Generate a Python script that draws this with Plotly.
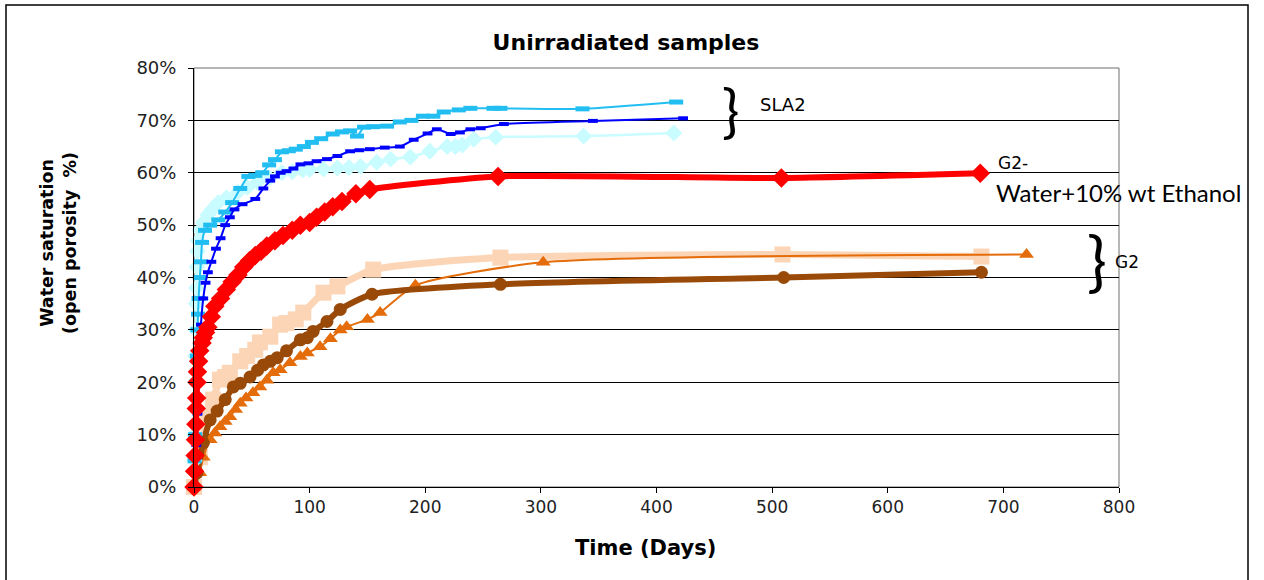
import plotly.graph_objects as go

# ---- Data (days, % water saturation) ----
cyan_x = [0, 0.5, 1, 1.5, 2, 2.5, 3, 3.5, 4, 5, 6, 7, 9.5, 14, 21, 27, 33, 40, 47, 53, 59, 65, 70, 76, 82, 88, 95, 102, 110, 120, 128, 135, 141, 147, 155, 167, 178, 188, 198, 207, 216, 229, 239, 259, 265, 336, 417]
cyan_y = [0, 5, 10, 15, 20, 25, 30, 33, 36, 40, 43, 46.7, 49, 50, 51, 52.5, 54.3, 57, 59.3, 59.5, 60, 61.5, 62.5, 64, 64.2, 64.5, 65, 65.8, 66.5, 67.4, 67.8, 68, 67, 68.7, 68.8, 68.9, 69.7, 70, 70.8, 70.8, 71.6, 72, 72.3, 72.3, 72.3, 72.2, 73.5]

blue_x = [0, 1, 2, 3, 4, 5, 6, 8, 10, 12, 15, 19, 23, 27, 31, 35, 42, 53, 60, 66, 70, 75, 80, 86, 92, 99, 106, 115, 124, 135, 143, 152, 165, 178, 190, 202, 210, 222, 230, 239, 248, 268, 345, 423]
blue_y = [0, 3, 8, 14, 20, 26, 31, 36, 39, 41, 43, 45.5, 47.5, 50, 51.5, 53, 54, 55, 57, 58.5, 59.3, 60, 60.3, 60.8, 61.6, 61.8, 62.2, 62.6, 63.2, 64.1, 64.3, 64.5, 64.8, 65, 66.3, 67.5, 68.3, 67.4, 67.7, 68.3, 68.5, 69.3, 69.9, 70.4]

pale_x = [0, 0.3, 0.5, 0.8, 1, 1.2, 1.5, 1.8, 2, 2.5, 3, 3.5, 5, 8, 12, 15.6, 21, 28, 38, 46, 55, 65, 76, 85, 94, 100, 112, 124, 134, 144, 158, 170, 187, 204, 219, 226, 232, 242, 261, 337, 415]
pale_y = [0, 5, 10, 15, 20, 25, 30, 35, 38, 42, 45, 47, 49, 50.5, 52, 53, 54.3, 55.2, 56.3, 57.2, 58.2, 59, 60, 60.2, 60.5, 60.6, 60.7, 60.9, 61, 61.2, 62, 62.6, 63, 64.1, 65, 65, 65.3, 66.4, 66.8, 67, 67.6]

red_x = [0, 0.5, 1, 1.3, 1.6, 2, 2.3, 2.6, 3, 4, 5, 7, 8, 10, 12, 15, 18, 23, 28, 33, 38, 43, 48, 53, 58, 63, 70, 77, 85, 92, 100, 106, 113, 120, 128, 140, 152, 263, 508, 680]
red_y = [0, 3, 6, 9, 12, 15, 17, 20, 22, 24, 26, 27.5, 28.5, 29.5, 30.5, 32.5, 34.5, 36, 37.7, 39.2, 40.5, 42, 43.2, 44.2, 45, 46, 47, 48, 49, 50, 50.5, 51.5, 52.5, 53.5, 54.5, 56, 56.8, 59.3, 59, 59.9]

peach_x = [0, 5, 11, 16.5, 22.5, 27, 31, 40, 46, 53, 57, 66, 74.5, 80, 88, 94.5, 112, 124, 155, 265, 509, 681]
peach_y = [0, 5.7, 13.4, 16.7, 20.5, 21, 21.8, 24, 25, 26.2, 27.6, 28.7, 31, 31.3, 32, 33.3, 37.1, 38.3, 41.5, 43.8, 44.4, 44]

brown_x = [0, 2.6, 8, 14, 20, 27, 34, 40, 48.5, 55, 60, 66, 72, 80, 92, 98, 103, 115, 126.5, 154, 265, 510, 681]
brown_y = [0, 2.7, 8.4, 12.8, 14.5, 16.7, 19.1, 19.8, 21, 22.3, 23.3, 24, 24.7, 26, 28.1, 28.5, 29.7, 31.6, 33.9, 36.8, 38.7, 40, 41]

orange_x = [0, 5, 8, 14, 18, 22.5, 27, 31, 36, 40, 45, 51, 57, 63, 68.5, 74.5, 83, 92, 98, 109, 118, 126.5, 132, 150, 161, 191.5, 302, 720]
orange_y = [0, 2.7, 5.7, 9, 10.3, 11.5, 12.5, 13.4, 14.8, 16, 17, 18, 19.1, 20.4, 21.8, 22.4, 23.7, 24.9, 25.6, 26.8, 28.3, 30, 30.6, 32, 33.3, 38.5, 42.9, 44.4]

x_ticks = [0, 100, 200, 300, 400, 500, 600, 700, 800]
y_ticks = [0, 10, 20, 30, 40, 50, 60, 70, 80]
y_tick_labels = [f"{v}%" for v in y_ticks]

fig = go.Figure()

def add(x, y, color, width, symbol, size, mline=0):
    fig.add_trace(go.Scatter(
        x=x, y=y, mode="lines+markers", cliponaxis=False,
        line=dict(color=color, width=width, shape="spline", smoothing=0.6),
        marker=dict(symbol=symbol, size=size, color=color,
                    line=dict(width=mline, color=color)),
        showlegend=False, hoverinfo="x+y"))

add(peach_x, peach_y, "#FBD5B5", 7, "square", 16)
add(orange_x, orange_y, "#E46C0A", 2, "triangle-up", 13)
add(brown_x, brown_y, "#9A4A08", 6, "circle", 13)
add(pale_x, pale_y, "#C9FCFF", 2.5, "diamond", 13)
add(cyan_x, cyan_y, "#22BEF2", 2, "line-ew-open", 10, mline=5)
add(blue_x, blue_y, "#0000FF", 2, "line-ew-open", 7, mline=4)
add(red_x, red_y, "#FF0000", 6, "diamond", 15)

font_main = "DejaVu Sans, Liberation Sans, sans-serif"

fig.update_layout(
    width=1264, height=580,
    margin=dict(l=194, r=145, t=68, b=93),
    paper_bgcolor="white", plot_bgcolor="white",
    font=dict(family=font_main, size=17, color="#222222"),
    title=dict(text="<b>Unirradiated samples</b>", x=626 / 1264, xanchor="center",
               y=1 - 42 / 580, yanchor="middle", font=dict(size=22, color="#000000")),
    xaxis=dict(range=[0, 800], tickvals=x_ticks, ticks="outside", ticklen=5,
               showgrid=False, zeroline=False, showline=True, linecolor="#000000", linewidth=1,
               tickcolor="#000000", tickfont=dict(size=17)),
    yaxis=dict(range=[0, 80], tickvals=y_ticks, ticktext=y_tick_labels, ticks="outside", ticklen=5,
               showgrid=True, gridcolor="#000000", gridwidth=1, zeroline=False,
               showline=True, linecolor="#000000", linewidth=1, tickcolor="#000000",
               tickfont=dict(size=18), ticklabelstandoff=8),
)

# plot-area border (top/right) and outer chart border
fig.add_shape(type="rect", xref="paper", yref="paper", x0=0, x1=1, y0=0, y1=1,
              line=dict(color="#6E6E6E", width=1), layer="below")
fig.add_shape(type="rect", xref="paper", yref="paper",
              x0=(6 - 194) / 925, x1=(1248 - 194) / 925, y0=(487 - 640) / 419, y1=(487 - 5) / 419,
              line=dict(color="#000000", width=1.5))

def ann(text, px, py, size, family=font_main, xanchor="left", angle=0):
    fig.add_annotation(text=text, xref="paper", yref="paper",
                       x=(px - 194) / 925, y=(487 - py) / 419, xanchor=xanchor, yanchor="middle",
                       textangle=angle, showarrow=False,
                       font=dict(size=size, family=family, color="#000000"))

# axis titles
ann("<b>Time (Days)</b>", 645, 548, 21, xanchor="center")
ann("<b>Water saturation<br>(open porosity  %)</b>", 58, 243, 17.5, xanchor="center", angle=-90)

ann("}", 720, 110, 58, family="DejaVu Sans ExtraLight, Lato, sans-serif")
ann("SLA2", 758, 104, 18)
ann("G2-", 996, 163, 17)
ann("Water+10% wt Ethanol", 994, 192, 24, family="Lato, Open Sans, sans-serif")
ann("}", 1085, 258, 66, family="DejaVu Sans ExtraLight, Lato, sans-serif")
ann("G2", 1113, 262, 17)

fig.write_html("out.html", config={"displayModeBar": False},
               post_script="document.body.style.margin='0';")
